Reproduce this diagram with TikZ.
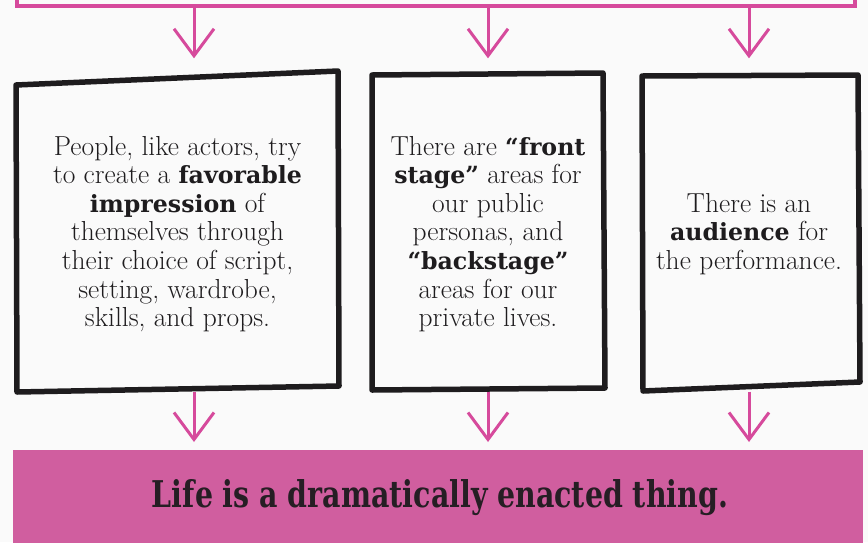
\documentclass[tikz,border=0pt]{standalone}
\usepackage{fontspec}
\usepackage{graphicx}
\usetikzlibrary{arrows.meta}
\newfontfamily\slab{DejaVu Serif}[Scale=0.86]
\newfontfamily\heavy{DejaVu Serif Condensed}
\newcommand{\hb}[1]{{\slab\bfseries #1}}
\definecolor{pinkline}{RGB}{214,74,156}
\definecolor{pinkfill}{RGB}{208,94,159}
\definecolor{inkc}{RGB}{30,28,30}
\definecolor{paper}{RGB}{250,250,250}
\definecolor{lifetext}{RGB}{38,30,36}
\tikzset{
  rough/.style={draw=inkc, line width=5.5pt, line join=round, line cap=round},
  boxtxt/.style={align=center, inner sep=0pt, minimum height=315pt, text=inkc,
    font=\fontsize{27.5}{28.6}\selectfont},
  parrow/.style={draw=pinkline, line width=3pt,
    -{Straight Barb[length=27pt, width=40pt, line width=3pt]}},
}
\begin{document}
\begin{tikzpicture}[x=1pt, y=-1pt]
\useasboundingbox[fill=paper] (0,0) rectangle (868,542);
% top (cut-off) pink box
\node[draw=pinkline, line width=4pt, minimum width=838pt, minimum height=60pt,
  inner sep=0pt, anchor=south] (top) at (436,8) {};
% bottom pink box
\node[fill=pinkfill, minimum width=850pt, minimum height=100pt, inner sep=0pt,
  anchor=north west] (life) at (13,450) {};
\node[text=lifetext, inner sep=0pt, anchor=base] (lifetxt) at (440,507)
  {\resizebox{576pt}{28pt}{\heavy\bfseries Life is a dramatically enacted thing.}};
% text boxes
\node[boxtxt, minimum width=323pt] (b1) at (177.5,234)
  {People, like actors, try\\ to create a \hb{favorable}\\ \hb{impression} of\\
   themselves through\\ their choice of script,\\ setting, wardrobe,\\ skills, and props.};
\node[boxtxt, minimum width=232pt] (b2) at (488,234)
  {There are \hb{“front}\\ \hb{stage”} areas for\\ our public\\ personas, and\\
   \hb{“backstage”}\\ areas for our\\ private lives.};
\node[boxtxt, minimum width=216pt] (b3) at (749,234)
  {There is an\\ \hb{audience} for\\ the performance.};
% hand-drawn outlines
\draw[rough] (16,85) -- (338,71) -- (339,386) -- (17,392) -- cycle;
\draw[rough] (372,75) -- (603,73) -- (605,388) -- (372,390) -- cycle;
\draw[rough] (642,76) -- (858,75) -- (860,382) -- (643,391) -- cycle;
% arrow columns
\coordinate (c1) at (194,0);
\coordinate (c2) at (488,0);
\coordinate (c3) at (749,0);
\draw[parrow, shorten >=18pt] (top.south -| c1) -- (c1 |- b1.north);
\draw[parrow, shorten >=18pt] (top.south -| c2) -- (c2 |- b2.north);
\draw[parrow, shorten >=18pt] (top.south -| c3) -- (c3 |- b3.north);
\draw[parrow, shorten >=8pt] (c1 |- b1.south) -- (c1 |- life.north);
\draw[parrow, shorten >=8pt] (c2 |- b2.south) -- (c2 |- life.north);
\draw[parrow, shorten >=8pt] (c3 |- b3.south) -- (c3 |- life.north);
\end{tikzpicture}
\end{document}
